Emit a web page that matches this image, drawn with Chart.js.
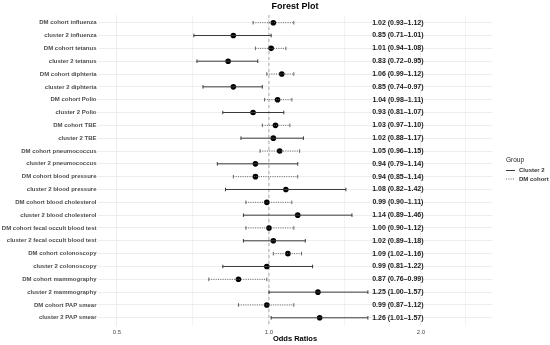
<!DOCTYPE html>
<html><head><meta charset="utf-8">
<script src="https://cdn.jsdelivr.net/npm/chart.js@4"></script>
<style>html,body{margin:0;padding:0;background:#fff}</style>
</head><body>
<canvas id="c" width="550" height="345"></canvas>
<script>
const categories = [
  'DM cohort influenza','cluster 2 influenza','DM cohort tetanus','cluster 2 tetanus',
  'DM cohort diphteria','cluster 2 diphteria','DM cohort Polio','cluster 2 Polio',
  'DM cohort TBE','cluster 2 TBE','DM cohort pneumococcus','cluster 2 pneumococcus',
  'DM cohort blood pressure','cluster 2 blood pressure','DM cohort blood cholesterol','cluster 2 blood cholesterol',
  'DM cohort fecal occult blood test','cluster 2 fecal occult blood test','DM cohort colonoscopy','cluster 2 colonoscopy',
  'DM cohort mammography','cluster 2 mammography','DM cohort PAP smear','cluster 2 PAP smear'
];
const groups = categories.map(c => c.startsWith('DM cohort') ? 'DM cohort' : 'Cluster 2');
const oddsRatios = [1.02,0.85,1.01,0.83,1.06,0.85,1.04,0.93,1.03,1.02,1.05,0.94,0.94,1.08,0.99,1.14,1.00,1.02,1.09,0.99,0.87,1.25,0.99,1.26];
const ciLow      = [0.93,0.71,0.94,0.72,0.99,0.74,0.98,0.81,0.97,0.88,0.96,0.79,0.85,0.82,0.90,0.89,0.90,0.89,1.02,0.81,0.76,1.00,0.87,1.01];
const ciHigh     = [1.12,1.01,1.08,0.95,1.12,0.97,1.11,1.07,1.10,1.17,1.15,1.14,1.14,1.42,1.11,1.46,1.12,1.18,1.16,1.22,0.99,1.57,1.12,1.57];
const xTickValues = [0.5, 1.0, 2.0];
const xMinorGrid = [0.707, 1.414, 2.45];
const legendGroups = ['Cluster 2', 'DM cohort'];

const FONT = "'Liberation Sans', Arial, sans-serif";
const SOLID = '#3a3a3a', DOT = '#666666';

function barData(group) {
  const out = [];
  categories.forEach((c, i) => {
    if (groups[i] !== group) return;
    out.push({x: ciLow[i], y: i + 1}, {x: ciHigh[i], y: i + 1}, {x: null, y: null});
  });
  return out;
}

const extras = {
  id: 'extras',
  beforeDatasetsDraw(chart) {
    const {ctx, chartArea: a, scales: {x}} = chart;
    const px = x.getPixelForValue(1);
    ctx.save();
    ctx.strokeStyle = '#9a9a9a'; ctx.lineWidth = 0.8; ctx.setLineDash([3, 3]);
    ctx.beginPath(); ctx.moveTo(px, a.top); ctx.lineTo(px, a.bottom); ctx.stroke();
    ctx.restore();
  },
  afterDatasetsDraw(chart) {
    const {ctx, scales: {x, y}} = chart;
    ctx.save();
    ctx.font = 'bold 7px ' + FONT; ctx.fillStyle = '#1a1a1a';
    ctx.textAlign = 'center'; ctx.textBaseline = 'middle';
    const tx = x.getPixelForValue(1.8);
    categories.forEach((c, i) => {
      const t = oddsRatios[i].toFixed(2) + ' (' + ciLow[i].toFixed(2) + '\u2013' + ciHigh[i].toFixed(2) + ')';
      ctx.fillText(t, tx, y.getPixelForValue(i + 1));
    });
    // legend
    const lx = 506, ly = 160;
    ctx.textAlign = 'left';
    ctx.font = '6.5px ' + FONT; ctx.fillStyle = '#1a1a1a';
    ctx.fillText('Group', lx, ly);
    ctx.font = 'bold 6px ' + FONT; ctx.fillStyle = '#333';
    legendGroups.forEach((g, k) => {
      const yy = ly + 10.5 + k * 8.5;
      ctx.strokeStyle = k === 0 ? SOLID : DOT; ctx.lineWidth = 1;
      ctx.setLineDash(k === 0 ? [] : [1, 1.3]);
      ctx.beginPath(); ctx.moveTo(lx, yy); ctx.lineTo(lx + 9, yy); ctx.stroke();
      ctx.fillText(g, lx + 13, yy);
    });
    ctx.restore();
  }
};

new Chart(document.getElementById('c'), {
  type: 'scatter',
  data: {
    datasets: [
      {label: 'Cluster 2', data: barData('Cluster 2'), showLine: true, spanGaps: false,
       borderColor: SOLID, borderWidth: 1, pointStyle: 'line', rotation: 90, pointRadius: 1.8,
       pointBorderColor: SOLID, pointBorderWidth: 1, pointHoverRadius: 0},
      {label: 'DM cohort', data: barData('DM cohort'), showLine: true, spanGaps: false,
       borderColor: DOT, borderWidth: 1, borderDash: [1, 1.3], pointStyle: 'line', rotation: 90, pointRadius: 1.8,
       pointBorderColor: DOT, pointBorderWidth: 1, pointHoverRadius: 0},
      {label: 'Odds ratio', data: oddsRatios.map((v, i) => ({x: v, y: i + 1})),
       pointRadius: 2.8, backgroundColor: '#000', borderColor: '#000', borderWidth: 0}
    ]
  },
  options: {
    responsive: false, animation: false, devicePixelRatio: 1,
    layout: {padding: {left: 0, right: 58, top: 0, bottom: 0}},
    plugins: {
      legend: {display: false}, tooltip: {enabled: false},
      title: {display: true, text: 'Forest Plot', fullSize: false, color: '#000',
              font: {family: FONT, size: 9, weight: 'bold'}, padding: {top: 1.5, bottom: 2.7}}
    },
    scales: {
      x: {
        type: 'logarithmic', min: 0.4585, max: 2.765,
        afterBuildTicks(s) { s.ticks = [...xTickValues, ...xMinorGrid].sort((a, b) => a - b).map(v => ({value: v})); },
        afterFit(s) { s.height = 19.5; },
        ticks: {autoSkip: false, maxRotation: 0, padding: 3, color: '#4d4d4d',
                font: {family: FONT, size: 6},
                callback: v => xTickValues.includes(v) ? v.toFixed(1) : ''},
        grid: {color: '#ebebeb', lineWidth: c => xTickValues.includes(c.tick && c.tick.value) ? 0.9 : 0.6, drawTicks: false},
        border: {display: false},
        title: {display: true, text: 'Odds Ratios', color: '#000', font: {family: FONT, size: 7.5, weight: 'bold'}, padding: {top: 0, bottom: 2}}
      },
      y: {
        type: 'linear', min: 0.4, max: 24.6, reverse: true,
        afterBuildTicks(s) { s.ticks = categories.map((c, i) => ({value: i + 1})); },
        afterFit(s) { s.width = 98; },
        ticks: {autoSkip: false, padding: 1.5, color: '#4d4d4d', font: {family: FONT, size: 6, weight: 'bold'},
                callback: v => categories[v - 1]},
        grid: {color: '#ebebeb', lineWidth: 0.9, drawTicks: false},
        border: {display: false}
      }
    }
  },
  plugins: [extras]
});
</script>
</body></html>
